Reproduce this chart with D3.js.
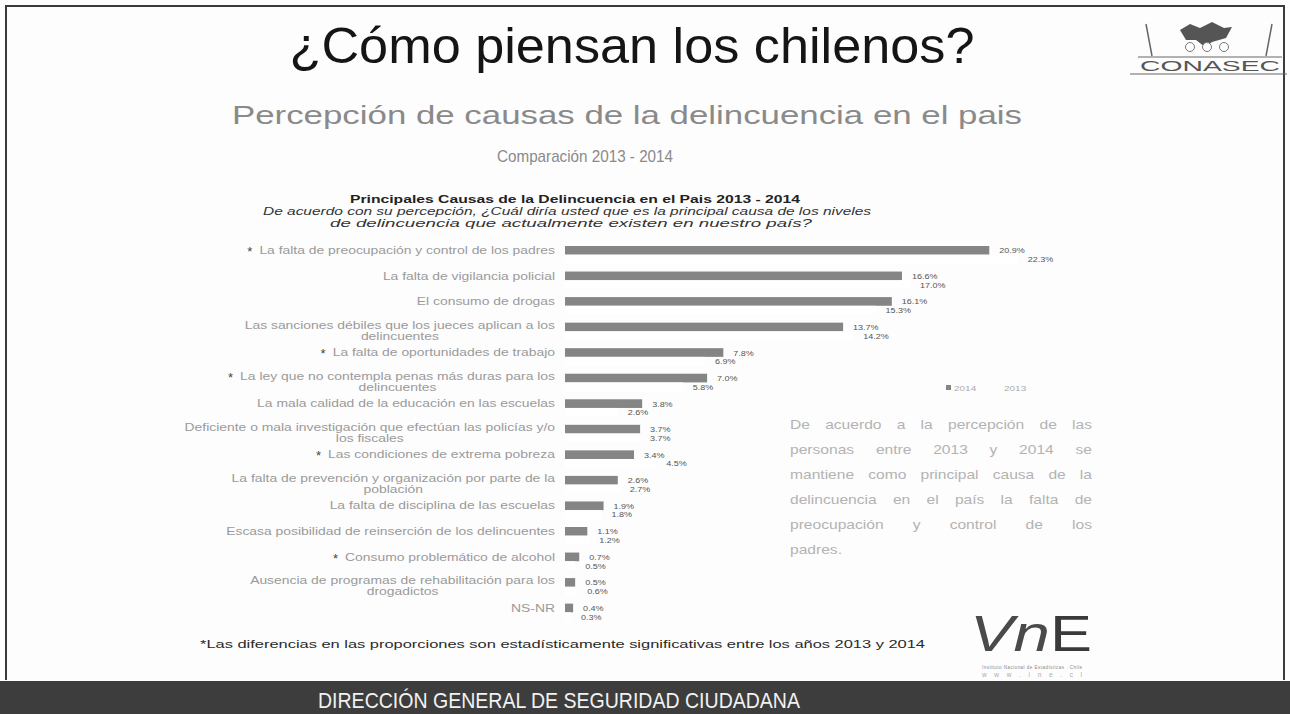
<!DOCTYPE html>
<html>
<head>
<meta charset="utf-8">
<script src="https://cdn.jsdelivr.net/npm/d3@7"></script>
<style>
  body { margin: 0; background: #fff; }
  svg { display: block; font-family: "Liberation Sans", Arial, sans-serif; }
</style>
</head>
<body>
<div id="slide"></div>
<script>
// Datos (2014 arriba, 2013 abajo)
const categories = [
    "La falta de preocupación y control de los padres",
    "La falta de vigilancia policial",
    "El consumo de drogas",
    "Las sanciones débiles que los jueces aplican a los\ndelincuentes",
    "La falta de oportunidades de trabajo",
    "La ley que no contempla penas más duras para los\ndelincuentes",
    "La mala calidad de la educación en las escuelas",
    "Deficiente o mala investigación que efectúan las policías y/o\nlos fiscales",
    "Las condiciones de extrema pobreza",
    "La falta de prevención y organización por parte de la\npoblación",
    "La falta de disciplina de las escuelas",
    "Escasa posibilidad de reinserción de los delincuentes",
    "Consumo problemático de alcohol",
    "Ausencia de programas de rehabilitación para los\ndrogadictos",
    "NS-NR"
];
const significant = [true, false, false, false, true, true, false, false, true, false, false, false, true, false, false];
const values2014 = [20.9, 16.6, 16.1, 13.7, 7.8, 7.0, 3.8, 3.7, 3.4, 2.6, 1.9, 1.1, 0.7, 0.5, 0.4];
const values2013 = [22.3, 17.0, 15.3, 14.2, 6.9, 5.8, 2.6, 3.7, 4.5, 2.7, 1.8, 1.2, 0.5, 0.6, 0.3];
const years = ["2014", "2013"];
const yearColors = ["#858585", "#ffffff"];

const paragraph = [
    "De acuerdo a la percepción de las",
    "personas entre 2013 y 2014 se",
    "mantiene como principal causa de la",
    "delincuencia en el país la falta de",
    "preocupación y control de los",
    "padres."
];

const W = 1290, H = 714;
const STRETCH = 1.39; // la lamina original esta estirada en horizontal

const svg = d3.select("#slide").append("svg")
    .attr("width", W)
    .attr("height", H);

svg.append("rect").attr("width", W).attr("height", H).attr("fill", "#fdfdfd");

// marco
svg.append("path")
    .attr("d", `M6,680 V6 H1284 V680`)
    .attr("fill", "none")
    .attr("stroke", "#3a3a3a")
    .attr("stroke-width", 2);

// Titulos
svg.append("text")
    .attr("x", 632).attr("y", 63)
    .attr("text-anchor", "middle")
    .attr("font-size", 50)
    .attr("fill", "#151515")
    .attr("textLength", 685)
    .attr("lengthAdjust", "spacingAndGlyphs")
    .text("¿Cómo piensan los chilenos?");

svg.append("text")
    .attr("x", 627).attr("y", 124)
    .attr("text-anchor", "middle")
    .attr("font-size", 25)
    .attr("fill", "#8a8a8a")
    .attr("textLength", 790)
    .attr("lengthAdjust", "spacingAndGlyphs")
    .text("Percepción de causas de la delincuencia en el pais");

svg.append("text")
    .attr("x", 585).attr("y", 162)
    .attr("text-anchor", "middle")
    .attr("font-size", 17)
    .attr("fill", "#8a8a8a")
    .attr("textLength", 176)
    .attr("lengthAdjust", "spacingAndGlyphs")
    .text("Comparación 2013 - 2014");

// Titulo del grafico
svg.append("text")
    .attr("x", 575).attr("y", 203)
    .attr("text-anchor", "middle")
    .attr("font-size", 11)
    .attr("font-weight", "bold")
    .attr("fill", "#222")
    .attr("textLength", 450)
    .attr("lengthAdjust", "spacingAndGlyphs")
    .text("Principales Causas de la Delincuencia en el Pais 2013 - 2014");

svg.append("text")
    .attr("x", 567).attr("y", 215)
    .attr("text-anchor", "middle")
    .attr("font-size", 11)
    .attr("font-style", "italic")
    .attr("fill", "#333")
    .attr("textLength", 608)
    .attr("lengthAdjust", "spacingAndGlyphs")
    .text("De acuerdo con su percepción, ¿Cuál diría usted que es la principal causa de los niveles");

svg.append("text")
    .attr("x", 571).attr("y", 227)
    .attr("text-anchor", "middle")
    .attr("font-size", 11)
    .attr("font-style", "italic")
    .attr("fill", "#333")
    .attr("textLength", 482)
    .attr("lengthAdjust", "spacingAndGlyphs")
    .text("de delincuencia que actualmente existen en nuestro país?");

// Escalas
const x = d3.scaleLinear().domain([0, 25]).range([565, 565 + 25 * 20.3]);
const y = d3.scaleBand().domain(categories).range([246, 621]).paddingInner(0.32).paddingOuter(0);
const ySub = d3.scaleBand().domain(years).range([0, y.bandwidth()]);

const rows = categories.map((c, i) => ({
    cat: c,
    sig: significant[i],
    vals: [values2014[i], values2013[i]]
}));

const chart = svg.append("g");

const row = chart.selectAll("g.row")
    .data(rows)
    .enter().append("g")
    .attr("class", "row")
    .attr("transform", d => `translate(0,${y(d.cat)})`);

row.selectAll("rect")
    .data(d => d.vals.map((v, j) => ({ year: years[j], v: v, j: j })))
    .enter().append("rect")
    .attr("x", x(0))
    .attr("y", d => ySub(d.year))
    .attr("width", d => x(d.v) - x(0))
    .attr("height", ySub.bandwidth())
    .attr("fill", d => yearColors[d.j]);

// etiquetas de valor
row.selectAll("text.val")
    .data(d => d.vals.map((v, j) => ({ year: years[j], v: v })))
    .enter().append("text")
    .attr("class", "val")
    .attr("transform", d => `translate(${x(d.v) + 10},${ySub(d.year) + ySub.bandwidth() / 2 + 3}) scale(1.2,1)`)
    .attr("font-size", 7.5)
    .attr("fill", "#555")
    .text(d => d.v.toFixed(1) + "%");

// etiquetas de categoria (a la izquierda, alineadas a la derecha)
row.each(function (d) {
    const g = d3.select(this);
    const lines = d.cat.split("\n");
    const lineH = 11;
    const y0 = lines.length === 1 ? 8 : 6;
    const t = g.append("text")
        .attr("class", "cat")
        .attr("font-size", 10)
        .attr("fill", "#9a9a9a")
        .attr("transform", `translate(555,${y0}) scale(${STRETCH},1)`);
    t.append("tspan").attr("x", 0).attr("text-anchor", "end").text(lines[0]);
    if (lines.length > 1) {
        const firstW = t.select("tspan").node().getComputedTextLength();
        t.append("tspan")
            .attr("x", -firstW / 2)
            .attr("dy", lineH)
            .attr("text-anchor", "middle")
            .text(lines[1]);
    }
    if (d.sig) {
        const w = t.select("tspan").node().getComputedTextLength();
        g.append("text")
            .attr("x", 555 - w * STRETCH - 7)
            .attr("y", y0 + 2)
            .attr("text-anchor", "end")
            .attr("font-size", 13)
            .attr("fill", "#444")
            .text("*");
    }
});

// leyenda
const legend = svg.append("g").attr("transform", "translate(946,385)");
years.forEach((yr, i) => {
    legend.append("rect")
        .attr("x", i * 50).attr("y", 0)
        .attr("width", 5).attr("height", 5)
        .attr("fill", yearColors[i] === "#ffffff" ? "#fdfdfd" : yearColors[i]);
    legend.append("text")
        .attr("transform", `translate(${i * 50 + 8},6) scale(1.25,1)`)
        .attr("font-size", 8)
        .attr("fill", "#aaa")
        .text(yr);
});

// parrafo justificado: se reparte el espacio entre palabras
const para = svg.append("g");
const paraX = 790, paraW = 302;
paragraph.forEach((line, i) => {
    const words = line.split(" ");
    const ly = 429 + i * 25;
    const ws = words.map(w => {
        const t = para.append("text")
            .attr("font-size", 13)
            .attr("fill", "#b3b3b3")
            .text(w);
        return { t: t, w: t.node().getComputedTextLength() * 1.2 };
    });
    const total = d3.sum(ws, d => d.w);
    const last = i === paragraph.length - 1;
    const gap = (!last && ws.length > 1) ? (paraW - total) / (ws.length - 1) : 5;
    let cx = paraX;
    ws.forEach(d => {
        d.t.attr("transform", `translate(${cx},${ly}) scale(1.2,1)`);
        cx += d.w + gap;
    });
});

// nota
svg.append("text")
    .attr("x", 200).attr("y", 648)
    .attr("font-size", 11.5)
    .attr("fill", "#2a2a2a")
    .attr("textLength", 725)
    .attr("lengthAdjust", "spacingAndGlyphs")
    .text("*Las diferencias en las proporciones son estadísticamente significativas entre los años 2013 y 2014");

// logo INE (aproximado)
const ine = svg.append("g");
ine.append("text")
    .attr("x", 970).attr("y", 651)
    .attr("font-size", 50)
    .attr("font-style", "italic")
    .attr("fill", "#4a4a4a")
    .attr("textLength", 80)
    .attr("lengthAdjust", "spacingAndGlyphs")
    .text("Vn");
ine.append("text")
    .attr("x", 1050).attr("y", 651)
    .attr("font-size", 50)
    .attr("fill", "#3a3a3a")
    .attr("textLength", 42)
    .attr("lengthAdjust", "spacingAndGlyphs")
    .text("E");
ine.append("text")
    .attr("x", 982).attr("y", 669)
    .attr("font-size", 4.5)
    .attr("fill", "#888")
    .attr("textLength", 100)
    .text("Instituto Nacional de Estadísticas · Chile");
ine.append("text")
    .attr("x", 982).attr("y", 677)
    .attr("font-size", 6.5)
    .attr("fill", "#aaa")
    .attr("textLength", 100)
    .text("w w w . i n e . c l");

// logo CONASEC (aproximado)
const logo = svg.append("g");
logo.append("path")
    .attr("d", "M1146,24 L1152,56 M1272,24 L1266,56")
    .attr("stroke", "#666").attr("stroke-width", 1.5).attr("fill", "none");
logo.append("path")
    .attr("d", "M1180,30 L1190,24 L1200,28 L1212,22 L1224,28 L1232,27 L1226,38 L1212,42 L1205,47 L1196,40 L1186,40 Z")
    .attr("fill", "#555");
logo.selectAll("circle.head")
    .data([1190, 1207, 1224])
    .enter().append("circle")
    .attr("cx", d => d).attr("cy", 47).attr("r", 4.5)
    .attr("fill", "#fdfdfd").attr("stroke", "#777");
logo.append("line")
    .attr("x1", 1138).attr("x2", 1282).attr("y1", 57).attr("y2", 57)
    .attr("stroke", "#666");
logo.append("line")
    .attr("x1", 1130).attr("x2", 1287).attr("y1", 74).attr("y2", 74)
    .attr("stroke", "#666");
logo.append("text")
    .attr("x", 1140).attr("y", 71)
    .attr("font-size", 15)
    .attr("fill", "#555")
    .attr("textLength", 140)
    .attr("lengthAdjust", "spacingAndGlyphs")
    .text("CONASEC");

// barra inferior
svg.append("rect")
    .attr("x", 0).attr("y", 681)
    .attr("width", W).attr("height", H - 681)
    .attr("fill", "#3d3d3d");
svg.append("text")
    .attr("x", 318).attr("y", 708)
    .attr("font-size", 22)
    .attr("fill", "#f2f2f2")
    .attr("textLength", 482)
    .attr("lengthAdjust", "spacingAndGlyphs")
    .text("DIRECCIÓN GENERAL DE SEGURIDAD CIUDADANA");
</script>
</body>
</html>
